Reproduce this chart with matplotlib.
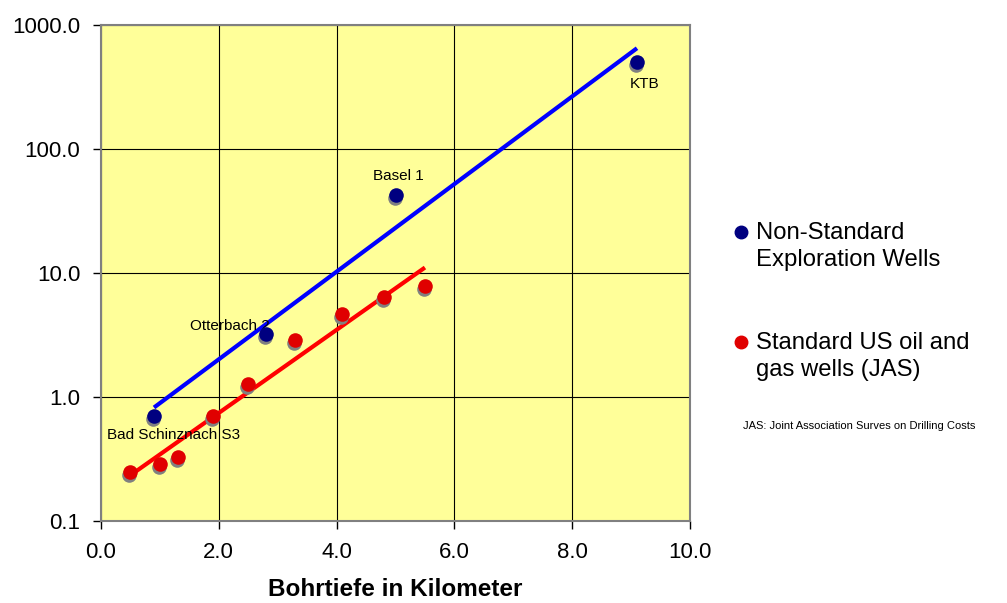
import matplotlib.pyplot as plt
import numpy as np
from matplotlib.lines import Line2D
from matplotlib.transforms import offset_copy
from matplotlib.ticker import NullLocator

plt.rcParams['font.family'] = ['Liberation Sans', 'DejaVu Sans']

# Non-standard exploration wells
expl_depth = [0.9, 2.8, 5.0, 9.1]
expl_cost = [0.7, 3.2, 42.6, 500.0]
expl_names = ["Bad Schinznach S3", "Otterbach 2", "Basel 1", "KTB"]

# Standard US oil and gas wells (JAS)
jas_depth = [0.5, 1.0, 1.3, 1.9, 2.5, 3.3, 4.1, 4.8, 5.5]
jas_cost = [0.25, 0.29, 0.33, 0.7, 1.27, 2.9, 4.65, 6.4, 7.8]

x_ticks = [0.0, 2.0, 4.0, 6.0, 8.0, 10.0]
y_ticks = [0.1, 1.0, 10.0, 100.0, 1000.0]

fig = plt.figure(figsize=(10.07, 6.03), dpi=100)
ax = fig.add_axes([101 / 1007, 1 - 521 / 603, 589 / 1007, 496 / 603])
ax.set_facecolor('#FFFF99')

ax.set_yscale('log')
ax.set_xlim(0, 10)
ax.set_ylim(0.1, 1000)
ax.set_xticks(x_ticks)
ax.set_xticklabels(['%.1f' % v for v in x_ticks])
ax.set_yticks(y_ticks)
ax.set_yticklabels(['%.1f' % v for v in y_ticks])
ax.yaxis.set_minor_locator(NullLocator())
ax.tick_params(labelsize=16, length=6, width=1, pad=9, color='black')
ax.grid(True, color='black', linewidth=0.8)
ax.set_axisbelow(True)
for s in ax.spines.values():
    s.set_color('#808080')
    s.set_linewidth(1.5)
ax.set_xlabel('Bohrtiefe in Kilometer', fontsize=17.5, fontweight='bold', labelpad=11)

# exponential trendlines (least squares on log10)
for xs, ys, col in [(expl_depth, expl_cost, '#0000FF'), (jas_depth, jas_cost, '#FF0000')]:
    p = np.polyfit(xs, np.log10(ys), 1)
    xx = np.array([min(xs), max(xs)])
    ax.plot(xx, 10 ** np.polyval(p, xx), color=col, linewidth=3, zorder=3, solid_capstyle='butt')

shadow = offset_copy(ax.transData, fig=fig, x=-1, y=-3, units='dots')
ax.scatter(expl_depth, expl_cost, s=110, color='#808080', transform=shadow, zorder=4, linewidths=0)
ax.scatter(jas_depth, jas_cost, s=110, color='#808080', transform=shadow, zorder=4, linewidths=0)
ax.scatter(expl_depth, expl_cost, s=110, color='#000080', zorder=5, linewidths=0)
ax.scatter(jas_depth, jas_cost, s=110, color='#E00000', zorder=5, linewidths=0)

offsets = [(20, -19), (-36, 8), (3, 19), (8, -22)]
for name, x, y, off in zip(expl_names, expl_depth, expl_cost, offsets):
    ax.annotate(name, (x, y), xytext=off, textcoords='offset pixels',
                ha='center', va='center', fontsize=11, zorder=4.5)

# legend drawn by hand
fig.add_artist(Line2D([741 / 1007], [1 - 232 / 603], marker='o', markersize=9,
                      color='#000080', transform=fig.transFigure))
fig.add_artist(Line2D([741 / 1007], [1 - 342 / 603], marker='o', markersize=9,
                      color='#E00000', transform=fig.transFigure))
fig.text(756 / 1007, 1 - 246.5 / 603, 'Non-Standard\nExploration Wells', fontsize=17.2,
         va='center', ha='left', linespacing=1.25)
fig.text(756 / 1007, 1 - 356.5 / 603, 'Standard US oil and\ngas wells (JAS)', fontsize=17.2,
         va='center', ha='left', linespacing=1.25)
fig.text(743 / 1007, 1 - 426 / 603, 'JAS: Joint Association Surves on Drilling Costs',
         fontsize=8, va='center', ha='left')

fig.savefig('out.png', dpi=100)
